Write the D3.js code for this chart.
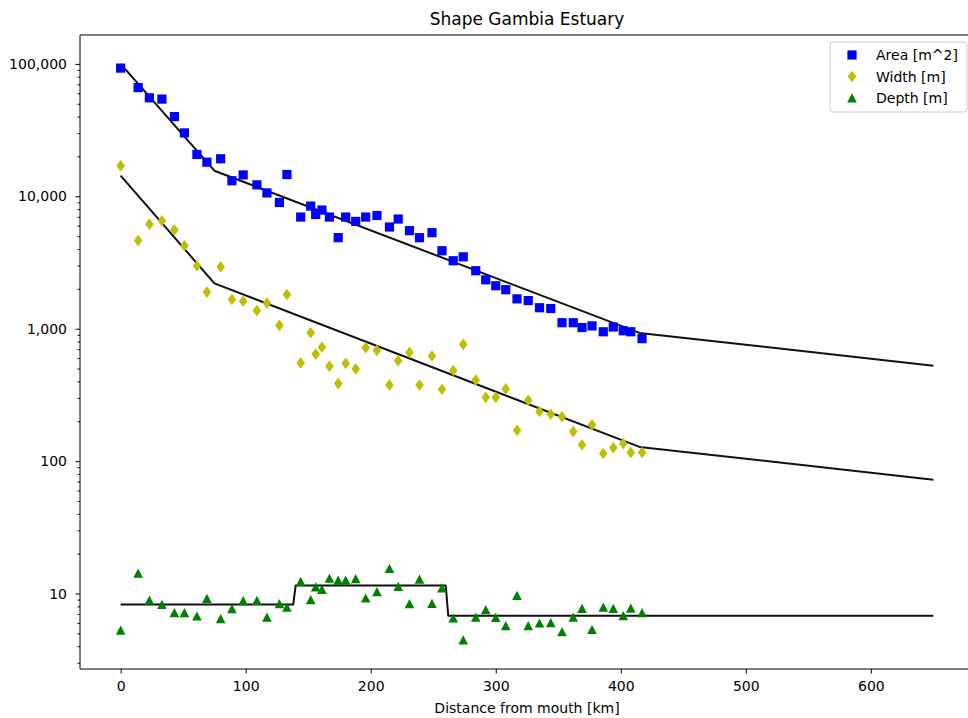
<!DOCTYPE html>
<html>
<head>
<meta charset="utf-8">
<script src="https://cdn.jsdelivr.net/npm/d3@7"></script>
<style>
  body { margin: 0; background: #fff; }
  svg { display: block; }
  text { font-family: "DejaVu Sans", sans-serif; fill: #000; }
</style>
</head>
<body>
<svg id="chart" width="968" height="718"></svg>
<script>
// Measured cross-sections along the Gambia estuary
const distanceKm = [0, 14, 23, 33, 43, 51, 61, 69, 80, 89, 98, 109, 117, 127, 133, 144, 152, 156, 161, 167,
  174, 180, 188, 196, 205, 215, 222, 231, 239, 249, 257, 266, 274, 284, 292, 300, 308, 317, 326, 335,
  344, 353, 362, 369, 377, 386, 394, 402, 408, 417];

const areaM2 = [92900, 66200, 55400, 54200, 40000, 30100, 20700, 18100, 19200, 13100, 14500, 12200, 10600, 8980, 14600, 6970, 8430, 7290, 7870, 6970,
  4870, 6970, 6460, 6970, 7160, 5860, 6730, 5500, 4870, 5310, 3880, 3260, 3490, 2740, 2340, 2110, 1970, 1680, 1630, 1440,
  1420, 1110, 1110, 1020, 1050, 948, 1030, 965, 948, 841];

const widthM = [17000, 4640, 6160, 6530, 5580, 4230, 2990, 1890, 2940, 1660, 1610, 1370, 1560, 1060, 1810, 551, 933, 643, 725, 521,
  385, 547, 497, 719, 686, 376, 573, 662, 376, 622, 349, 484, 762, 410, 303, 303, 351, 171, 288, 237,
  226, 216, 167, 133, 188, 114, 126, 136, 116, 116];

const depthM = [5.28, 14.2, 8.90, 8.26, 7.14, 7.14, 6.74, 9.17, 6.44, 7.67, 8.81, 8.86, 6.62, 8.36, 7.88, 12.3, 8.96, 11.2, 10.7, 13.0,
  12.6, 12.6, 12.9, 9.22, 10.3, 15.4, 11.3, 8.36, 12.8, 8.41, 11.0, 6.51, 4.45, 6.62, 7.53, 6.59, 5.70, 9.66, 5.70, 5.97,
  6.01, 5.14, 6.62, 7.71, 5.33, 7.88, 7.71, 6.79, 7.74, 7.14];

// Fitted profiles (piecewise exponential for area and width, stepwise for depth)
const fitKm = [0, 75, 415, 650];
const areaFit = [100000, 15600, 929, 526];
const widthFit = [14300, 2200, 128, 72.4];
const depthFitKm = [0, 138, 140, 260, 262, 650];
const depthFit = [8.25, 8.25, 11.5, 11.5, 6.8, 6.8];

const xTickValues = [0, 100, 200, 300, 400, 500, 600];
const yTickValues = [10, 100, 1000, 10000, 100000];
const seriesNames = ["Area [m^2]", "Width [m]", "Depth [m]"];
const seriesColors = ["#0000ff", "#bfbf00", "#008000"];

const svg = d3.select("#chart");
const frame = { left: 80, right: 974, top: 35, bottom: 669 };

const x = d3.scaleLinear().domain([-32.5, 682.5]).range([frame.left, frame.right]);
const y = d3.scaleLog().domain([Math.pow(10, 0.43), Math.pow(10, 5.218)]).range([frame.bottom, frame.top]);

const plot = svg.append("g");

// Fitted lines
const line = d3.line().x(d => x(d[0])).y(d => y(d[1]));
const fits = [
  d3.zip(fitKm, areaFit),
  d3.zip(fitKm, widthFit),
  d3.zip(depthFitKm, depthFit)
];
plot.selectAll("path.fit").data(fits).join("path")
  .attr("class", "fit")
  .attr("d", line)
  .attr("fill", "none")
  .attr("stroke", "#111")
  .attr("stroke-width", 2)
  .attr("stroke-linejoin", "round");

// Marker shapes
const squarePath = "M-4.6,-4.6H4.6V4.6H-4.6Z";
const diamondPath = "M0,-5.8L4.3,0L0,5.8L-4.3,0Z";
const trianglePath = "M0,-4.8L4.8,4.4L-4.8,4.4Z";
const markerPaths = [squarePath, diamondPath, trianglePath];
const seriesValues = [areaM2, widthM, depthM];

seriesValues.forEach((vals, i) => {
  plot.append("g").selectAll("path").data(d3.zip(distanceKm, vals)).join("path")
    .attr("d", markerPaths[i])
    .attr("transform", d => `translate(${x(d[0])},${y(d[1])})`)
    .attr("fill", seriesColors[i]);
});

// Spines
svg.append("line").attr("x1", frame.left).attr("x2", frame.left).attr("y1", frame.top).attr("y2", frame.bottom)
  .attr("stroke", "#000").attr("stroke-width", 1);
svg.append("line").attr("x1", frame.left).attr("x2", frame.right).attr("y1", frame.top).attr("y2", frame.top)
  .attr("stroke", "#000").attr("stroke-width", 1);
svg.append("line").attr("x1", frame.left).attr("x2", frame.right).attr("y1", frame.bottom).attr("y2", frame.bottom)
  .attr("stroke", "#000").attr("stroke-width", 1);

// X axis
const xAxis = d3.axisBottom(x).tickValues(xTickValues).tickSize(4.5).tickPadding(7.5).tickFormat(d3.format("d"));
const gx = svg.append("g").attr("transform", `translate(0,${frame.bottom})`).call(xAxis);
gx.select(".domain").remove();
gx.selectAll("text").attr("font-size", "14px").attr("font-family", "DejaVu Sans");

// Y axis, major ticks with labels
const yAxis = d3.axisLeft(y).tickValues(yTickValues).tickSize(4.5).tickPadding(8.5).tickFormat(d3.format(","));
const gy = svg.append("g").attr("transform", `translate(${frame.left},0)`).call(yAxis);
gy.select(".domain").remove();
gy.selectAll("text").attr("font-size", "14px").attr("font-family", "DejaVu Sans");

// Y axis, minor ticks
const [yMin, yMax] = y.domain();
const minorTicks = [];
for (let e = 0; e <= 5; e++) {
  for (let m = 2; m <= 9; m++) {
    const v = m * Math.pow(10, e);
    if (v >= yMin && v <= yMax) minorTicks.push(v);
  }
}
const yMinor = d3.axisLeft(y).tickValues(minorTicks).tickSize(2.5).tickFormat("");
const gym = svg.append("g").attr("transform", `translate(${frame.left},0)`).call(yMinor);
gym.select(".domain").remove();

// Title and axis label
svg.append("text").attr("x", (frame.left + frame.right) / 2).attr("y", 25)
  .attr("text-anchor", "middle").attr("font-size", "17px").text("Shape Gambia Estuary");
svg.append("text").attr("x", (frame.left + frame.right) / 2).attr("y", 713)
  .attr("text-anchor", "middle").attr("font-size", "14px").text("Distance from mouth [km]");

// Legend
const legend = svg.append("g").attr("transform", "translate(830,42)");
legend.append("rect").attr("width", 137).attr("height", 70).attr("rx", 3)
  .attr("fill", "#fff").attr("fill-opacity", 0.8).attr("stroke", "#ccc").attr("stroke-width", 1);
seriesNames.forEach((name, i) => {
  const row = legend.append("g").attr("transform", `translate(0,${13 + i * 21.5})`);
  row.append("path").attr("d", markerPaths[i]).attr("transform", "translate(22,0)").attr("fill", seriesColors[i]);
  row.append("text").attr("x", 46).attr("y", 5).attr("font-size", "14px").text(name);
});
</script>
</body>
</html>
